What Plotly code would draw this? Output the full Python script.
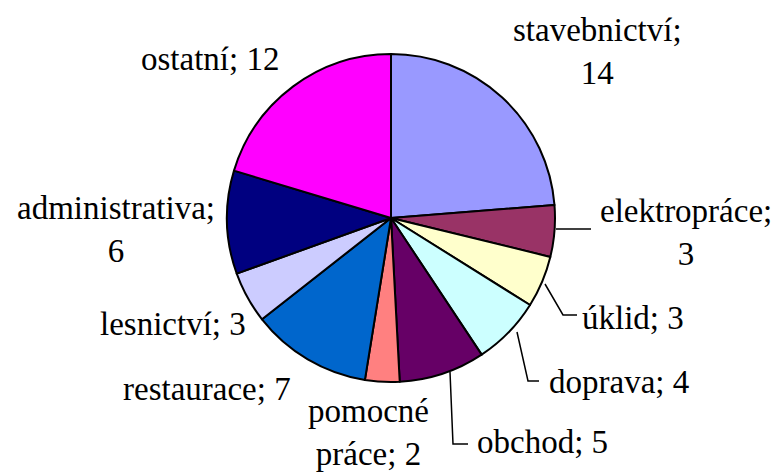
import plotly.graph_objects as go

W, H = 780, 473

categories = ["stavebnictví", "elektropráce", "úklid", "doprava", "obchod",
              "pomocné práce", "restaurace", "lesnictví", "administrativa", "ostatní"]
counts = [14, 3, 3, 4, 5, 2, 7, 3, 6, 12]
colors = ["#9999FF", "#993366", "#FFFFCC", "#CCFFFF", "#660066",
          "#FF8080", "#0066CC", "#CCCCFF", "#000080", "#FF00FF"]

# label text per slice (line breaks as in the original)
label_text = ["stavebnictví;<br>14", "elektropráce;<br>3", "úklid; 3", "doprava; 4",
              "obchod; 5", "pomocné<br>práce; 2", "restaurace; 7", "lesnictví; 3",
              "administrativa;<br>6", "ostatní; 12"]

# label centres in pixels
label_pos = [(597, 51), (686, 232), (633, 318), (619, 382), (542, 442),
             (368, 432), (207, 389), (173, 324), (116, 230), (210, 59)]

cx, cy, r = 391, 218, 164
FONT = "Liberation Serif, Times New Roman, serif"


def px_x(x):
    return x / W


def px_y(y):
    return 1 - y / H


fig = go.Figure(go.Pie(
    labels=categories,
    values=counts,
    sort=False,
    direction="clockwise",
    rotation=0,
    textinfo="none",
    hoverinfo="label+value",
    marker=dict(colors=colors, line=dict(color="black", width=2)),
    domain=dict(x=[px_x(cx - r), px_x(cx + r)], y=[px_y(cy + r), px_y(cy - r)]),
))

for txt, (x, y) in zip(label_text, label_pos):
    fig.add_annotation(
        x=px_x(x), y=px_y(y), xref="paper", yref="paper",
        text=txt, showarrow=False, xanchor="center", yanchor="middle",
        font=dict(family=FONT, size=33, color="black"),
    )

# leader lines (Excel style elbows)
leaders = [
    [(556, 229), (591, 229)],
    [(545, 284), (563, 315), (577, 315)],
    [(517, 332), (528, 381), (539, 381)],
    [(450, 372), (453, 444), (468, 444)],
]
for pts in leaders:
    path = "M " + " L ".join(f"{px_x(x)},{px_y(y)}" for x, y in pts)
    fig.add_shape(type="path", path=path, xref="paper", yref="paper",
                  line=dict(color="black", width=1.5))

fig.update_layout(
    width=W, height=H,
    margin=dict(l=0, r=0, t=0, b=0),
    paper_bgcolor="white",
    plot_bgcolor="white",
    font=dict(family=FONT),
    showlegend=False,
)

# page body has a default 8px margin; remove it so the figure fills the window
fig.write_html("out.html", config={"displayModeBar": False},
               post_script="document.body.style.margin='0';")
